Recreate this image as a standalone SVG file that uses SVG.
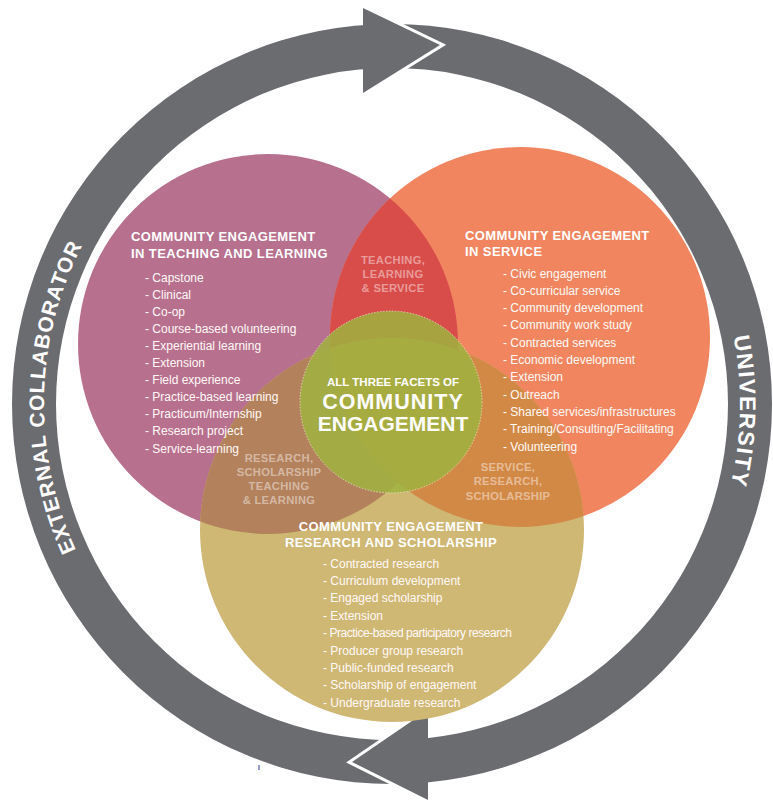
<svg xmlns="http://www.w3.org/2000/svg" width="773" height="801" viewBox="0 0 773 801">
<defs>
<style>
.ring{fill:#6b6c70}
.gap{fill:none;stroke:#ffffff;stroke-width:6;stroke-linejoin:miter}
.rt{font-family:"Liberation Sans",Arial,sans-serif;font-weight:bold;fill:#ffffff}
.hd{font-family:"Liberation Sans",Arial,sans-serif;font-weight:bold;font-size:13px;letter-spacing:0.4px;fill:#ffffff}
.it{font-family:"Liberation Sans",Arial,sans-serif;font-size:12px;fill:#fffaf8}
.ln{font-family:"Liberation Sans",Arial,sans-serif;font-weight:bold;font-size:11.2px;letter-spacing:0.3px;fill:#ffffff;fill-opacity:0.45;text-anchor:middle}
.ct{font-family:"Liberation Sans",Arial,sans-serif;font-weight:bold;fill:#ffffff;text-anchor:middle}
</style>
<clipPath id="cpPink"><circle cx="268" cy="344" r="190"/></clipPath>
<clipPath id="cpOrange"><circle cx="520" cy="337" r="190"/></clipPath>
<path id="arcL" d="M 90.6 578 A 348 348 0 0 1 90.6 230"/>
<path id="arcR" d="M 693.4 230 A 348 348 0 0 1 693.4 578"/>
</defs>

<g id="ring">
<path class="ring" fill-rule="evenodd" d="M 12 404 A 380 380 0 1 0 772 404 A 380 380 0 1 0 12 404 Z M 56 404 A 336 336 0 1 1 728 404 A 336 336 0 1 1 56 404 Z"/>
<polyline class="gap" points="363,8 440,45 363,93"/>
<polygon class="ring" points="363,8 440,45 363,93"/>
<polyline class="gap" points="428,710 352,762 428,800"/>
<polygon class="ring" points="428,710 352,762 428,800"/>
<text class="rt" font-size="21" letter-spacing="1"><textPath href="#arcL" startOffset="52%" text-anchor="middle">EXTERNAL COLLABORATOR</textPath></text>
<text class="rt" font-size="22.5" letter-spacing="1.5"><textPath href="#arcR" startOffset="52%" text-anchor="middle">UNIVERSITY</textPath></text>
</g>

<g id="venn">
<circle id="teaching" cx="268" cy="344" r="190" fill="#b7708d"/>
<circle id="service" cx="520" cy="337" r="190" fill="#f1855f"/>
<circle id="research" cx="392" cy="530" r="192" fill="#cfb774"/>
<circle cx="520" cy="337" r="190" fill="#d84c4a" clip-path="url(#cpPink)"/>
<circle cx="392" cy="530" r="192" fill="#b3815c" clip-path="url(#cpPink)"/>
<circle cx="392" cy="530" r="192" fill="#d38946" clip-path="url(#cpOrange)"/>
<circle id="all" cx="391" cy="402" r="91" fill="#9fb240" fill-opacity="0.86" stroke="#eeeed0" stroke-opacity="0.7" stroke-width="1" stroke-dasharray="1.5 1.5"/>
</g>

<g id="teaching-text">
<text class="hd" x="131" y="241">COMMUNITY ENGAGEMENT</text>
<text class="hd" x="131" y="257.5">IN TEACHING AND LEARNING</text>
<text class="it" x="145" y="281.5">- Capstone</text>
<text class="it" x="145" y="298.6">- Clinical</text>
<text class="it" x="145" y="315.7">- Co-op</text>
<text class="it" x="145" y="332.8">- Course-based volunteering</text>
<text class="it" x="145" y="349.9">- Experiential learning</text>
<text class="it" x="145" y="367">- Extension</text>
<text class="it" x="145" y="384.1">- Field experience</text>
<text class="it" x="145" y="401.2">- Practice-based learning</text>
<text class="it" x="145" y="418.3">- Practicum/Internship</text>
<text class="it" x="145" y="435.4">- Research project</text>
<text class="it" x="145" y="452.5">- Service-learning</text>
</g>

<g id="service-text">
<text class="hd" x="465" y="239.5">COMMUNITY ENGAGEMENT</text>
<text class="hd" x="465" y="256">IN SERVICE</text>
<text class="it" x="503" y="277.5">- Civic engagement</text>
<text class="it" x="503" y="294.8">- Co-curricular service</text>
<text class="it" x="503" y="312.1">- Community development</text>
<text class="it" x="503" y="329.4">- Community work study</text>
<text class="it" x="503" y="346.7">- Contracted services</text>
<text class="it" x="503" y="364">- Economic development</text>
<text class="it" x="503" y="381.3">- Extension</text>
<text class="it" x="503" y="398.6">- Outreach</text>
<text class="it" x="503" y="415.9">- Shared services/infrastructures</text>
<text class="it" x="503" y="433.2">- Training/Consulting/Facilitating</text>
<text class="it" x="503" y="450.5">- Volunteering</text>
</g>

<g id="research-text">
<text class="hd" x="391" y="531" text-anchor="middle">COMMUNITY ENGAGEMENT</text>
<text class="hd" x="391" y="547" text-anchor="middle">RESEARCH AND SCHOLARSHIP</text>
<text class="it" x="323" y="567.5">- Contracted research</text>
<text class="it" x="323" y="584.9">- Curriculum development</text>
<text class="it" x="323" y="602.3">- Engaged scholarship</text>
<text class="it" x="323" y="619.7">- Extension</text>
<text class="it" x="323" y="637.1" letter-spacing="-0.45">- Practice-based participatory research</text>
<text class="it" x="323" y="654.5">- Producer group research</text>
<text class="it" x="323" y="671.9">- Public-funded research</text>
<text class="it" x="323" y="689.3">- Scholarship of engagement</text>
<text class="it" x="323" y="706.7">- Undergraduate research</text>
</g>

<g id="lens-text">
<text class="ln" x="393" y="263.5">TEACHING,</text>
<text class="ln" x="393" y="277.5">LEARNING</text>
<text class="ln" x="393" y="291.5">&amp; SERVICE</text>
<text class="ln" x="279" y="461.5">RESEARCH,</text>
<text class="ln" x="279" y="475.5">SCHOLARSHIP</text>
<text class="ln" x="279" y="489.5">TEACHING</text>
<text class="ln" x="279" y="503.5">&amp; LEARNING</text>
<text class="ln" x="508" y="470.5">SERVICE,</text>
<text class="ln" x="508" y="485">RESEARCH,</text>
<text class="ln" x="508" y="499.5">SCHOLARSHIP</text>
</g>

<g id="center-text">
<text class="ct" x="393" y="385.5" font-size="11.5">ALL THREE FACETS OF</text>
<text class="ct" x="393" y="409" font-size="21.5" letter-spacing="1">COMMUNITY</text>
<text class="ct" x="393" y="431" font-size="21">ENGAGEMENT</text>
</g>
<rect x="258.5" y="765" width="1" height="5" fill="#2a3a9a"/>
</svg>
